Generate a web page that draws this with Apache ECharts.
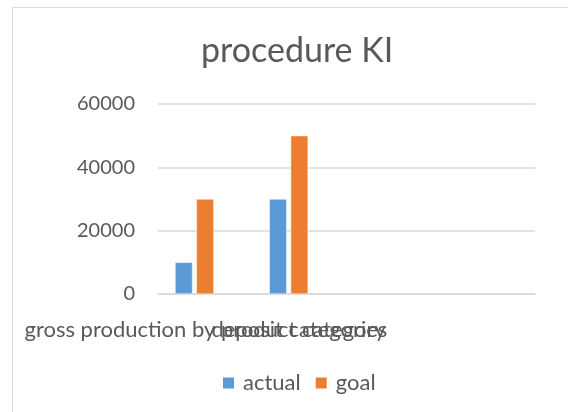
<!DOCTYPE html>
<html>
<head>
<meta charset="utf-8">
<script src="https://cdn.jsdelivr.net/npm/echarts@6/dist/echarts.min.js"></script>
<style>html,body{margin:0;padding:0;background:#fff;}#c{width:568px;height:412px;}</style>
</head>
<body>
<div id="c"></div>
<script>
const titleText = "procedure KI";
const categories = ["gross production by product category", "deposit categories", "", ""];
const seriesNames = ["actual", "goal"];
const actualValues = [10000, 30000, null, null];
const goalValues = [30000, 50000, null, null];
const yTicks = [0, 20000, 40000, 60000];

const chart = echarts.init(document.getElementById('c'), null, {renderer: 'canvas'});
const FONT = 'Lato';
const TXT = '#595959';
chart.setOption({
  animation: false,
  backgroundColor: '#fff',
  graphic: [{
    type: 'rect', shape: {x: 12.5, y: 7.5, width: 600, height: 500},
    style: {fill: 'none', stroke: '#D9D9D9', lineWidth: 1}, silent: true
  }],
  title: {
    text: titleText, left: 196, top: 29,
    textStyle: {fontFamily: FONT, fontSize: 34, fontWeight: 'normal', color: TXT}
  },
  legend: {
    data: seriesNames, bottom: 13, left: 216,
    itemWidth: 13, itemHeight: 13, itemGap: 13,
    icon: 'rect',
    textStyle: {fontFamily: FONT, fontSize: 22, color: TXT, padding: [0, 0, 0, 3]}
  },
  grid: {left: 158, right: 33, top: 104, bottom: 118, containLabel: false},
  xAxis: {
    type: 'category', data: categories,
    axisLine: {lineStyle: {color: '#D9D9D9', width: 1.5}},
    axisTick: {show: false},
    axisLabel: {interval: 0, margin: 25, fontFamily: FONT, fontSize: 22, color: TXT, overflow: 'none'}
  },
  yAxis: {
    type: 'value', min: yTicks[0], max: yTicks[yTicks.length - 1], interval: yTicks[1] - yTicks[0],
    axisLine: {show: false}, axisTick: {show: false},
    splitLine: {lineStyle: {color: '#D9D9D9', width: 1.5}},
    axisLabel: {margin: 23, fontFamily: FONT, fontSize: 20, color: TXT, formatter: v => String(v)}
  },
  series: [
    {name: seriesNames[0], type: 'bar', data: actualValues, barWidth: 17.5, barGap: '22%',
     itemStyle: {color: '#5B9BD5', borderColor: '#fff', borderWidth: 0.5}},
    {name: seriesNames[1], type: 'bar', data: goalValues, barWidth: 17.5, barGap: '22%',
     itemStyle: {color: '#ED7D31', borderColor: '#fff', borderWidth: 0.5}},
    {name: '_spacer', type: 'bar', data: [null, null, null, null], barWidth: 17.5, barGap: '22%'}
  ]
});
</script>
</body>
</html>
